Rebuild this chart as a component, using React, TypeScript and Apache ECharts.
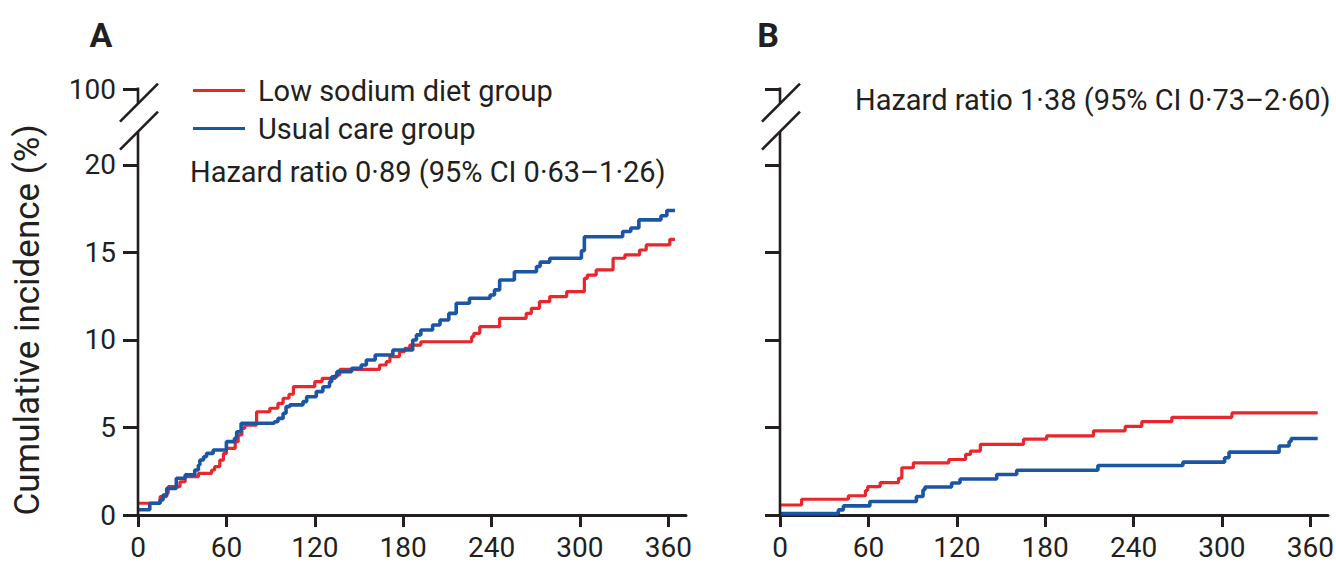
import React, { useEffect, useRef } from "react";
import * as echarts from "echarts";

// ---------- data (days, cumulative incidence %) ----------
const X_TICKS = [0, 60, 120, 180, 240, 300, 360];
const Y_TICKS = [0, 5, 10, 15, 20, 100];

const LOW_SODIUM_A: [number, number][] = [
  [0, 0.67], [15, 1.05], [19.5, 1.24], [20.5, 1.62], [28.5, 1.9], [32, 2.19], [41, 2.38],
  [50, 2.57], [52, 2.76], [55.5, 3.14], [58, 3.52], [60, 3.81], [66, 4.19], [68, 4.57],
  [70.5, 4.95], [72.5, 5.14], [80.5, 5.9], [89.5, 6.1], [95, 6.38], [98.5, 6.67],
  [102.5, 6.9], [105.5, 7.33], [120, 7.62], [125, 7.81], [134, 8.0], [137, 8.32],
  [164, 8.57], [168.5, 8.76], [171, 9.05], [177.5, 9.33], [181, 9.52], [184.5, 9.71],
  [192, 9.9], [226.5, 10.19], [228, 10.38], [232, 10.76], [245.5, 11.24], [263.5, 11.52],
  [267, 11.81], [272.5, 12.19], [279.5, 12.48], [291, 12.76], [303, 13.52], [305, 13.71],
  [311, 14.0], [322.5, 14.67], [330.5, 14.86], [340.5, 15.14], [345, 15.43], [361, 15.75],
  [364.5, 15.75],
];

const USUAL_CARE_A: [number, number][] = [
  [0, 0.3], [8, 0.67], [15, 0.86], [17, 1.14], [19.5, 1.52], [26, 2.1], [32, 2.29],
  [38.5, 2.57], [41, 2.86], [42, 3.14], [44.5, 3.33], [46.5, 3.52], [51, 3.71], [60, 4.19],
  [65.5, 4.38], [67, 4.76], [70, 5.24], [92.5, 5.33], [95, 5.52], [98.5, 5.81], [100.5, 6.19],
  [103, 6.29], [112, 6.48], [114.5, 6.76], [121, 7.05], [125.5, 7.33], [130, 7.62],
  [131.5, 7.9], [135, 8.19], [145, 8.38], [151.5, 8.57], [155, 8.86], [161, 9.14],
  [173, 9.43], [186.5, 10.0], [189, 10.29], [192, 10.57], [200, 10.86], [205, 11.14],
  [211, 11.52], [216, 12.1], [225, 12.38], [239, 12.57], [242, 12.86], [245.5, 13.43],
  [255.5, 13.9], [270.5, 14.2], [273, 14.45], [279.5, 14.67], [301, 15.1], [303, 15.9],
  [329, 16.2], [334.5, 16.4], [340, 16.86], [355, 17.1], [359, 17.4], [364.5, 17.4],
];

const LOW_SODIUM_B: [number, number][] = [
  [0, 0.57], [14.7, 0.9], [46.4, 1.1], [58, 1.4], [59.5, 1.62], [68, 1.85], [80.5, 2.1],
  [82.7, 2.7], [90.5, 2.98], [114.6, 3.17], [126, 3.46], [129.3, 3.65], [136, 4.04],
  [165.3, 4.33], [181, 4.52], [212.8, 4.81], [234.3, 5.06], [245.6, 5.33], [266, 5.58],
  [306.8, 5.83], [365, 5.83],
];

const USUAL_CARE_B: [number, number][] = [
  [0, 0.08], [39.6, 0.29], [43, 0.52], [61, 0.77], [92.6, 1.06], [97.1, 1.44], [98.4, 1.6],
  [116.5, 1.83], [122.2, 2.06], [147.1, 2.31], [160.7, 2.56], [215.8, 2.83], [273.5, 3.02],
  [301.8, 3.27], [304.8, 3.59], [338.8, 3.94], [345.6, 4.2], [347, 4.37], [365, 4.37],
];

const SERIES_NAMES = ["Low sodium diet group", "Usual care group"];
const HAZARD_TEXTS = [
  "Hazard ratio 0·89 (95% CI 0·63–1·26)",
  "Hazard ratio 1·38 (95% CI 0·73–2·60)",
];
const PANEL_LABELS = ["A", "B"];
const Y_TITLE = "Cumulative incidence (%)";

// axis-break geometry (in axis units): 100 sits at the top of a broken axis
const Y_TOP = 24.34;
const BREAK_LOW = 21.9;
const BREAK_HIGH = 23.5;
const X_MAX = 372;
const yPos = (v: number) => (v === 100 ? Y_TOP : v);

const RED = "#e8262b";
const BLUE = "#1b56a5";
const INK = "#231f20";
const FONT = "Roboto";

export default function App() {
  const ref = useRef<HTMLDivElement>(null);

  useEffect(() => {
    const chart = echarts.init(ref.current!, null, { renderer: "svg" });

    const yTickPos = Y_TICKS.map(yPos);

    const makeX = (gridIndex: number) => ({
      type: "value",
      gridIndex,
      min: 0,
      max: X_MAX,
      axisLine: { show: true, lineStyle: { color: INK, width: 3 } },
      axisTick: { show: true, customValues: X_TICKS, length: 12, lineStyle: { color: INK, width: 3 } },
      axisLabel: {
        show: true,
        customValues: X_TICKS,
        margin: 18,
        fontSize: 28,
        fontFamily: FONT,
        color: INK,
      },
      splitLine: { show: false },
    });

    const makeY = (gridIndex: number, labels: boolean) => ({
      type: "value",
      gridIndex,
      min: 0,
      max: Y_TOP,
      axisLine: { show: false },
      axisTick: { show: true, customValues: yTickPos, length: 15, lineStyle: { color: INK, width: 3 } },
      axisLabel: {
        show: labels,
        customValues: yTickPos,
        margin: 22,
        fontSize: 28,
        fontFamily: FONT,
        color: INK,
        formatter: (v: number) => (Math.abs(v - Y_TOP) < 1e-6 ? "100" : String(v)),
      },
      splitLine: { show: false },
    });

    const breakSeries = (idx: number) => ({
      type: "custom",
      xAxisIndex: idx,
      yAxisIndex: idx,
      silent: true,
      clip: false,
      z: 5,
      data: [[0, 0]],
      renderItem: (_params: any, api: any) => {
        const p0 = api.coord([0, 0]);
        const p1 = api.coord([0, BREAK_LOW]);
        const p2 = api.coord([0, BREAK_HIGH]);
        const p3 = api.coord([0, Y_TOP]);
        const st = { stroke: INK, lineWidth: 2.6 };
        const slash = (p: number[]) => ({
          type: "line",
          shape: { x1: p[0] - 18, y1: p[1] + 18, x2: p[0] + 20, y2: p[1] - 20 },
          style: { stroke: INK, lineWidth: 2.6 },
        });
        return {
          type: "group",
          children: [
            { type: "line", shape: { x1: p0[0], y1: p0[1] + 1.5, x2: p1[0], y2: p1[1] }, style: st },
            { type: "line", shape: { x1: p2[0], y1: p2[1], x2: p3[0], y2: p3[1] - 1.5 }, style: st },
            slash(p1),
            slash(p2),
          ],
        };
      },
    });

    const lineSeries = (name: string, data: [number, number][], color: string, idx: number, width: number) => ({
      type: "line",
      name,
      xAxisIndex: idx,
      yAxisIndex: idx,
      data,
      step: "end",
      symbol: "none",
      showSymbol: false,
      lineStyle: { color, width },
      itemStyle: { color },
      z: 3,
    });

    const option: any = {
      animation: false,
      backgroundColor: "#ffffff",
      grid: [
        { left: 138, top: 89, width: 548, height: 426, outerBoundsMode: "none" },
        { left: 780, top: 89, width: 548, height: 426, outerBoundsMode: "none" },
      ],
      xAxis: [makeX(0), makeX(1)],
      yAxis: [makeY(0, true), makeY(1, false)],
      legend: {
        left: 188,
        top: 71,
        orient: "vertical",
        icon: "rect",
        itemWidth: 52,
        itemHeight: 3,
        itemGap: 9,
        data: SERIES_NAMES,
        selectedMode: false,
        textStyle: { fontSize: 29, fontFamily: FONT, color: INK, padding: [0, 0, 0, 8] },
      },
      series: [
        lineSeries(SERIES_NAMES[0], LOW_SODIUM_A, RED, 0, 3.2),
        lineSeries(SERIES_NAMES[1], USUAL_CARE_A, BLUE, 0, 3.6),
        lineSeries(SERIES_NAMES[0], LOW_SODIUM_B, RED, 1, 3.2),
        lineSeries(SERIES_NAMES[1], USUAL_CARE_B, BLUE, 1, 3.6),
        breakSeries(0),
        breakSeries(1),
      ],
      graphic: [
        {
          type: "text",
          x: 101,
          y: 35,
          style: { text: PANEL_LABELS[0], font: `bold 34px ${FONT}`, fill: INK, align: "center", verticalAlign: "middle" },
        },
        {
          type: "text",
          x: 768,
          y: 35,
          style: { text: PANEL_LABELS[1], font: `bold 34px ${FONT}`, fill: INK, align: "center", verticalAlign: "middle" },
        },
        {
          type: "text",
          x: 190,
          y: 172,
          style: { text: HAZARD_TEXTS[0], font: `29px ${FONT}`, fill: INK, align: "left", verticalAlign: "middle" },
        },
        {
          type: "text",
          x: 855,
          y: 100,
          style: { text: HAZARD_TEXTS[1], font: `29px ${FONT}`, fill: INK, align: "left", verticalAlign: "middle" },
        },
        {
          type: "text",
          x: 27,
          y: 320,
          rotation: Math.PI / 2,
          style: { text: Y_TITLE, font: `35px ${FONT}`, fill: INK, align: "center", verticalAlign: "middle" },
        },
      ],
    };

    chart.setOption(option);
    return () => chart.dispose();
  }, []);

  return (
    <div
      ref={ref}
      style={{ position: "fixed", left: 0, top: 0, width: 1336, height: 562, background: "#fff" }}
    />
  );
}
